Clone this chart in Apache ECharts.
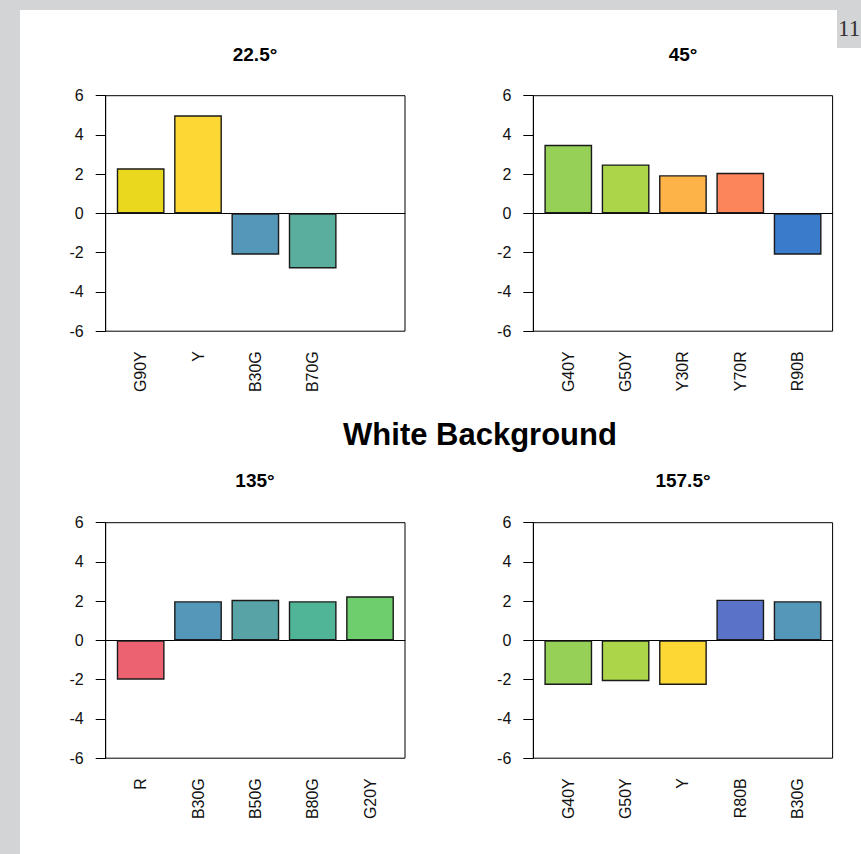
<!DOCTYPE html>
<html>
<head>
<meta charset="utf-8">
<script src="https://cdn.jsdelivr.net/npm/echarts@6/dist/echarts.min.js"></script>
<style>
  html, body { margin: 0; padding: 0; background: #d3d4d6; }
  #bg { position: absolute; left: 20px; top: 10px; width: 841px; height: 844px; background: #ffffff; }
  #chart { position: absolute; left: 0; top: 0; width: 861px; height: 854px; }
</style>
</head>
<body>
<div id="bg"></div>
<div id="chart"></div>
<script>
// ---- data ----
const mainTitle = 'White Background';
const yTicks = [-6, -4, -2, 0, 2, 4, 6];

const title1 = '22.5°';
const cats1 = ['G90Y', 'Y', 'B30G', 'B70G'];
const vals1 = [2.3, 5.0, -2.1, -2.8];
const cols1 = ['#E9D81E', '#FDD835', '#5597B8', '#59AE9D'];

const title2 = '45°';
const cats2 = ['G40Y', 'G50Y', 'Y30R', 'Y70R', 'R90B'];
const vals2 = [3.5, 2.5, 1.95, 2.07, -2.1];
const cols2 = ['#96D056', '#ADD54A', '#FDB347', '#FD855C', '#3A7BCC'];

const title3 = '135°';
const cats3 = ['R', 'B30G', 'B50G', 'B80G', 'G20Y'];
const vals3 = [-2.0, 2.0, 2.07, 2.0, 2.25];
const cols3 = ['#EC6270', '#5597B8', '#58A3A6', '#50B597', '#6ECE6E'];

const title4 = '157.5°';
const cats4 = ['G40Y', 'G50Y', 'Y', 'R80B', 'B30G'];
const vals4 = [-2.27, -2.08, -2.27, 2.08, 2.0];
const cols4 = ['#96D056', '#ADD54A', '#FDD835', '#5B72C9', '#5597B8'];

const pageLabel = '11';

// ---- layout ----
const FONT = '"Liberation Sans", Arial, sans-serif';
const SLOTS = 5;
const panels = [
  { title: title1, cats: cats1, vals: vals1, cols: cols1, left: 105.7, top: 95.7, titleX: 255, titleY: 45 },
  { title: title2, cats: cats2, vals: vals2, cols: cols2, left: 533.3, top: 95.7, titleX: 683, titleY: 45 },
  { title: title3, cats: cats3, vals: vals3, cols: cols3, left: 105.7, top: 522.7, titleX: 255, titleY: 471 },
  { title: title4, cats: cats4, vals: vals4, cols: cols4, left: 533.3, top: 522.7, titleX: 683, titleY: 471 }
];
const BOX_W = 299.3, BOX_H = 235.5;
// R barplot: bars width 1, space 0.2, xlim extended 4% on each side
const span = SLOTS * 1.2 - 0.2;
const unitsTotal = span * 1.08;
const pxPerUnit = BOX_W / unitsTotal;
const inset = (span * 0.04 - 0.1) * pxPerUnit;

const yMin = yTicks[0], yMax = yTicks[yTicks.length - 1];

const grid = [], xAxis = [], yAxis = [], series = [], title = [];
panels.forEach((p, i) => {
  grid.push({ left: p.left, top: p.top, width: BOX_W, height: BOX_H, show: true,
    borderColor: '#000', borderWidth: 1, backgroundColor: 'transparent' });
  grid.push({ left: p.left + inset, top: p.top, width: BOX_W - 2 * inset, height: BOX_H });
  xAxis.push({ gridIndex: 2 * i, type: 'value', min: 0, max: 1,
    axisLine: { show: true, onZero: true, lineStyle: { color: '#000', width: 1 } },
    axisTick: { show: false }, axisLabel: { show: false }, splitLine: { show: false } });
  const padded = p.cats.slice();
  while (padded.length < SLOTS) padded.push('');
  xAxis.push({ gridIndex: 2 * i + 1, type: 'category', data: padded,
    axisLine: { show: false, onZero: false }, axisTick: { show: false },
    axisLabel: { interval: 0, rotate: 90, fontSize: 16, fontFamily: FONT, color: '#111', margin: 20 },
    splitLine: { show: false } });
  yAxis.push({ gridIndex: 2 * i, type: 'value', min: yMin, max: yMax, interval: 2,
    axisLine: { show: true, lineStyle: { color: '#000', width: 1 } },
    axisTick: { show: true, length: 10, lineStyle: { color: '#000', width: 1 } },
    axisLabel: { fontSize: 16, fontFamily: FONT, color: '#111', margin: 22 },
    splitLine: { show: false } });
  yAxis.push({ gridIndex: 2 * i + 1, type: 'value', min: yMin, max: yMax, show: false });
  series.push({ type: 'bar', xAxisIndex: 2 * i + 1, yAxisIndex: 2 * i + 1,
    barCategoryGap: '16.667%',
    itemStyle: { borderColor: '#1a1a1a', borderWidth: 1.4 },
    data: p.vals.map((v, j) => ({ value: v, itemStyle: { color: p.cols[j] } })),
    silent: true, animation: false });
  title.push({ text: p.title, left: p.titleX, top: p.titleY, textAlign: 'center', padding: 0,
    textStyle: { fontSize: 19, fontWeight: 'bold', fontFamily: FONT, color: '#000' } });
});
title.push({ text: mainTitle, left: 480, top: 419, textAlign: 'center', padding: 0,
  textStyle: { fontSize: 31, fontWeight: 'bold', fontFamily: FONT, color: '#000' } });

const chart = echarts.init(document.getElementById('chart'), null, { renderer: 'svg' });
chart.setOption({
  backgroundColor: 'transparent',
  animation: false,
  title, grid, xAxis, yAxis, series,
  graphic: [
    { type: 'rect', shape: { x: 837, y: 10, width: 24, height: 38 }, style: { fill: '#d3d4d6' } },
    { type: 'text', style: { x: 838, y: 17, text: pageLabel, fontSize: 23, fontFamily: '"Liberation Serif", "DejaVu Serif", serif', fill: '#333' } }
  ]
});
</script>
</body>
</html>
